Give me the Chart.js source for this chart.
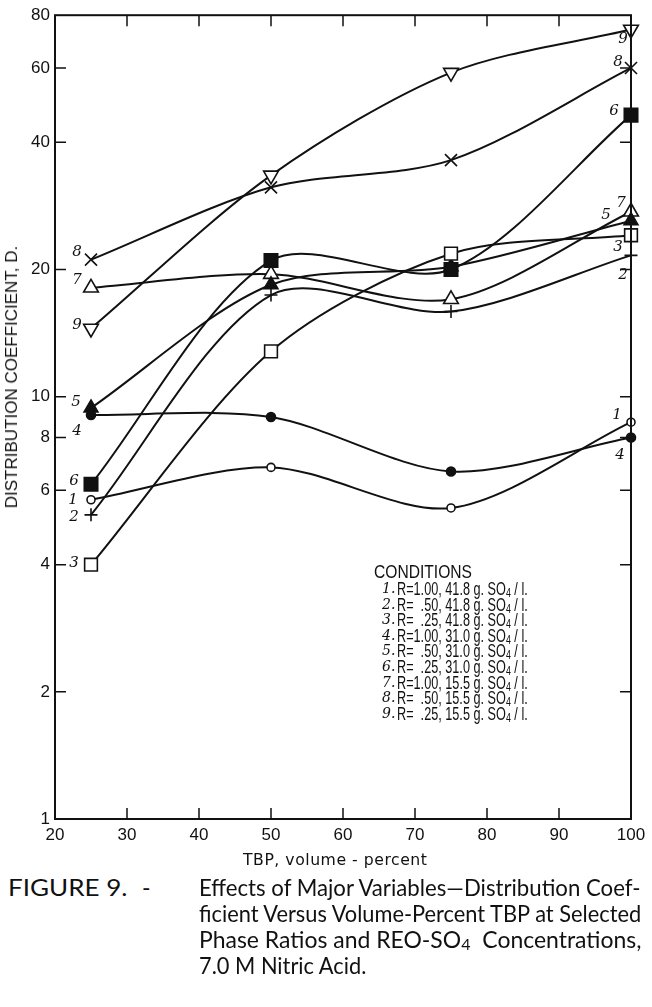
<!DOCTYPE html>
<html lang="en">
<head>
    <meta charset="UTF-8">
    <title>Figure 9 - Distribution Coefficient vs TBP</title>
    <script src="https://cdn.jsdelivr.net/npm/chart.js"></script>
    <style>
        body {
            margin: 0;
            background: #fff;
        }
        #page {
            position: relative;
            width: 652px;
            height: 1007px;
            overflow: hidden;
            color: #111;
        }
        #chartBox {
            position: absolute;
            left: 0;
            top: 0;
            width: 652px;
            height: 870px;
        }
        .fit {
            position: absolute;
            display: inline-block;
            white-space: nowrap;
            line-height: 1;
            transform-origin: 0 50%;
        }
        #ytitle {
            font: 17px "Liberation Sans", Arial, sans-serif;
            left: 12px;
            top: 377px;
            transform-origin: 50% 50%;
            transform: translate(-50%, -50%) rotate(-90deg);
        }
        #xtitle {
            font: 15px "DejaVu Sans", sans-serif;
            letter-spacing: 0.5px;
        }
        .cap {
            font: 23px Lato, "DejaVu Sans", sans-serif;
        }
        .cond {
            font: 18px "Liberation Sans", Arial, sans-serif;
        }
        .condNum {
            position: absolute;
            font: italic 14px "DejaVu Serif", serif;
            line-height: 1;
        }
        sub {
            font-size: 70%;
            vertical-align: -0.15em;
            line-height: 0;
        }
    </style>
</head>
<body>
<div id="page">
    <div id="chartBox"><canvas id="chart"></canvas></div>
    <div id="ytitle" class="fit">DISTRIBUTION COEFFICIENT, D.</div>
    <div id="xtitle" class="fit" data-w="185" style="left:243px; top:851px;">TBP, volume - percent</div>
    <div id="legend"></div>
    <div class="fit cap" data-w="120" style="left:8px; top:873px;">FIGURE 9.</div>
    <div class="fit cap" style="left:142px; top:873px;">-</div>
    <div class="fit cap" data-w="442" style="left:199px; top:873px;">Effects of Major Variables—Distribution Coef-</div>
    <div class="fit cap" id="capLine2" data-w="442" style="left:199px; top:899px;">ficient Versus Volume-Percent TBP at Selected</div>
    <div class="fit cap" data-w="442" style="left:199px; top:925px;">Phase Ratios and REO-SO<sub>4</sub>&nbsp; Concentrations,</div>
    <div class="fit cap" id="capLine4" style="left:199px; top:951px;">7.0 M Nitric Acid.</div>
</div>

<script>
    // TBP, volume-percent
    const tbp = [25, 50, 75, 100];

    // distribution coefficient D for conditions 1..9
    const cond1 = [5.7, 6.8, 5.45, 8.7];
    const cond2 = [5.25, 17.4, 15.9, 21.6];
    const cond3 = [4.0, 12.8, 21.8, 24.1];
    const cond4 = [9.05, 8.95, 6.65, 8.0];
    const cond5 = [9.4, 18.4, 20.3, 26.1];
    const cond6 = [6.2, 21.0, 20.0, 46.4];
    const cond7 = [18.1, 19.5, 17.0, 27.4];
    const cond8 = [21.1, 31.3, 36.3, 60.0];
    const cond9 = [14.5, 33.4, 58.5, 74.0];

    // legend text
    const phaseRatio = ['1.00', ' .50', ' .25', '1.00', ' .50', ' .25', '1.00', ' .50', ' .25'];
    const so4Conc = ['41.8', '41.8', '41.8', '31.0', '31.0', '31.0', '15.5', '15.5', '15.5'];

    const xTicks = [20, 30, 40, 50, 60, 70, 80, 90, 100];
    const yTicks = [1, 2, 4, 6, 8, 10, 20, 40, 60, 80];

    const allSeries = [cond1, cond2, cond3, cond4, cond5, cond6, cond7, cond8, cond9];

    const INK = '#111';

    // marker look per condition
    const markers = [
        { style: 'circle', r: 4, fill: '#fff' },
        { style: 'cross', r: 6.5, fill: INK },
        { style: 'rect', r: 9, fill: '#fff' },
        { style: 'circle', r: 4.5, fill: INK },
        { style: 'triangle', r: 8, fill: INK },
        { style: 'rect', r: 9.5, fill: INK },
        { style: 'triangle', r: 8.5, fill: '#fff' },
        { style: 'crossRot', r: 8.5, fill: INK },
        { style: 'triangle', r: 8.5, fill: '#fff', rot: 180 }
    ];

    // curve number labels: [condition index, point index, dx, dy]
    const curveLabels = [
        [7, 0, -14, -8], [6, 0, -14, -8], [8, 0, -14, -3], [4, 0, -15, -6],
        [3, 0, -14, 16], [5, 0, -17, -3], [0, 0, -18, 0], [1, 0, -17, 2], [2, 0, -17, -2],
        [8, 3, -8, 10], [7, 3, -13, -6], [5, 3, -17, -4], [6, 3, -10, -9],
        [4, 3, -25, -6], [2, 3, -13, 12], [1, 3, -8, 20], [0, 3, -14, -7], [3, 3, -11, 18]
    ];

    const datasets = allSeries.map((vals, i) => ({
        label: 'Condition ' + (i + 1),
        data: vals.map((v, j) => ({ x: tbp[j], y: v })),
        borderColor: INK,
        borderWidth: 2,
        tension: 0.3,
        pointStyle: markers[i].style,
        pointRadius: markers[i].r,
        pointRotation: markers[i].rot || 0,
        pointBackgroundColor: markers[i].fill,
        pointBorderColor: INK,
        pointBorderWidth: 1.6,
        clip: false
    }));

    // frame with inward ticks on all four sides, plus curve numbers
    const framePlugin = {
        id: 'frame',
        afterDraw(chart) {
            const { ctx, chartArea: a, scales } = chart;
            ctx.save();
            ctx.strokeStyle = INK;
            ctx.lineWidth = 2;
            ctx.strokeRect(a.left, a.top, a.right - a.left, a.bottom - a.top);
            ctx.lineWidth = 1.5;
            ctx.beginPath();
            xTicks.slice(1, -1).forEach(v => {
                const px = scales.x.getPixelForValue(v);
                ctx.moveTo(px, a.bottom); ctx.lineTo(px, a.bottom - 11);
                ctx.moveTo(px, a.top); ctx.lineTo(px, a.top + 11);
            });
            yTicks.slice(1, -1).forEach(v => {
                const py = scales.y.getPixelForValue(v);
                ctx.moveTo(a.left, py); ctx.lineTo(a.left + 11, py);
                ctx.moveTo(a.right, py); ctx.lineTo(a.right - 11, py);
            });
            ctx.stroke();

            ctx.fillStyle = INK;
            ctx.font = 'italic 15px "DejaVu Serif", serif';
            ctx.textAlign = 'center';
            ctx.textBaseline = 'middle';
            curveLabels.forEach(([s, p, dx, dy]) => {
                const pt = chart.getDatasetMeta(s).data[p];
                ctx.fillText(String(s + 1), pt.x + dx, pt.y + dy);
            });
            ctx.restore();
        }
    };

    new Chart(document.getElementById('chart'), {
        type: 'line',
        data: { datasets },
        options: {
            responsive: true,
            maintainAspectRatio: false,
            animation: false,
            layout: { padding: { top: 9, right: 21, left: 0, bottom: 0 } },
            plugins: {
                legend: { display: false },
                tooltip: { enabled: false }
            },
            scales: {
                x: {
                    type: 'linear',
                    min: 20,
                    max: 100,
                    afterBuildTicks: s => { s.ticks = xTicks.map(v => ({ value: v })); },
                    afterFit: s => { s.height = 51; },
                    grid: { display: false, drawTicks: false },
                    border: { display: false },
                    ticks: {
                        padding: 6,
                        color: INK,
                        font: { family: '"Liberation Sans", Arial, sans-serif', size: 17 },
                        callback: v => String(v)
                    }
                },
                y: {
                    type: 'logarithmic',
                    min: 1,
                    max: 80,
                    afterBuildTicks: s => { s.ticks = yTicks.map(v => ({ value: v })); },
                    afterFit: s => { s.width = 55; },
                    grid: { display: false, drawTicks: false },
                    border: { display: false },
                    ticks: {
                        padding: 5,
                        color: INK,
                        font: { family: '"Liberation Sans", Arial, sans-serif', size: 17 },
                        callback: v => String(v)
                    }
                }
            }
        },
        plugins: [framePlugin]
    });

    // conditions legend
    const legend = document.getElementById('legend');
    const head = document.createElement('div');
    head.className = 'fit cond';
    head.textContent = 'CONDITIONS';
    head.dataset.w = '98';
    head.style.left = '374px';
    head.style.top = '562px';
    legend.appendChild(head);
    phaseRatio.forEach((r, i) => {
        const y = 579 + i * 15.6;
        const num = document.createElement('div');
        num.className = 'condNum';
        num.textContent = (i + 1) + '.';
        num.style.left = '382px';
        num.style.top = (y + 2) + 'px';
        legend.appendChild(num);
        const line = document.createElement('div');
        line.className = 'fit cond';
        line.dataset.w = '131';
        line.style.left = '397px';
        line.style.top = y + 'px';
        line.innerHTML = 'R=' + r.replace(' ', '&nbsp;&nbsp;') + ', ' + so4Conc[i] + ' g. SO<sub>4</sub> / l.';
        legend.appendChild(line);
    });

    // squeeze text boxes to their measured widths
    let lineScale = 1;
    document.querySelectorAll('.fit[data-w]').forEach(el => {
        const k = Number(el.dataset.w) / el.offsetWidth;
        el.style.transform = 'scaleX(' + k + ')';
        if (el.id === 'capLine2') lineScale = k;
    });
    document.getElementById('capLine4').style.transform = 'scaleX(' + lineScale + ')';
</script>
</body>
</html>
